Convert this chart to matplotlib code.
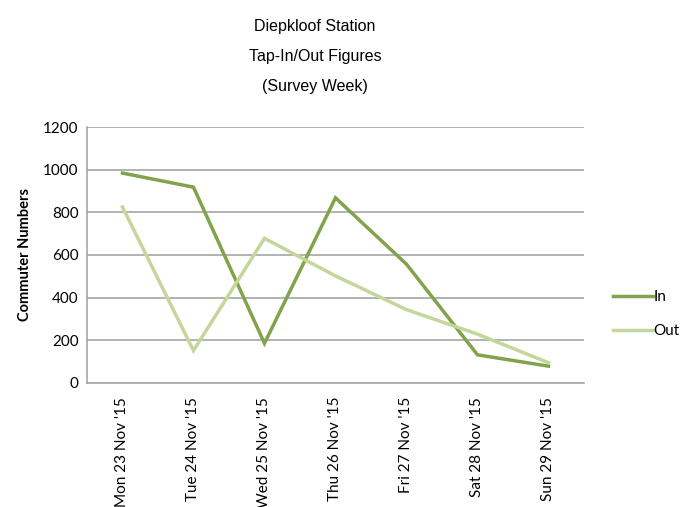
import matplotlib.pyplot as plt
from matplotlib.lines import Line2D

days = ["Mon 23 Nov '15", "Tue 24 Nov '15", "Wed 25 Nov '15", "Thu 26 Nov '15",
        "Fri 27 Nov '15", "Sat 28 Nov '15", "Sun 29 Nov '15"]
tap_in = [984, 918, 186, 868, 557, 132, 79]
tap_out = [825, 152, 678, 502, 344, 229, 95]
yticks = [0, 200, 400, 600, 800, 1000, 1200]

col_in = '#80a34b'
col_out = '#c4d79b'
grid_col = '#a6a6a6'

plt.rcParams['font.family'] = ['Lato', 'DejaVu Sans']

fig = plt.figure(figsize=(6.93, 5.07), dpi=100)
ax = fig.add_axes([0.1255, 0.2446, 0.7172, 0.5049])

x = range(len(days))
ax.plot(x, tap_in, color=col_in, lw=2.5, label='In', solid_joinstyle='miter')
ax.plot(x, tap_out, color=col_out, lw=2.5, label='Out', solid_joinstyle='miter')

ax.set_xlim(-0.5, len(days) - 0.5)
ax.set_ylim(0, 1200)
ax.set_yticks(yticks)
ax.set_xticks(list(x))
ax.set_xticklabels(days, rotation=90, fontsize=11)
ax.tick_params(axis='y', labelsize=11, length=0, pad=6)
ax.tick_params(axis='x', length=0, pad=10)
ax.yaxis.grid(True, color=grid_col, lw=1.2)
ax.set_axisbelow(True)
for s in ['top', 'right']:
    ax.spines[s].set_visible(False)
for s in ['left', 'bottom']:
    ax.spines[s].set_color(grid_col)
    ax.spines[s].set_linewidth(1.2)

ax.set_ylabel('Commuter Numbers', fontsize=10.5, fontweight='bold', labelpad=8)

# titre sur trois lignes
tx = 315 / 693
for i, t in enumerate(['Diepkloof Station', 'Tap-In/Out Figures', '(Survey Week)']):
    fig.text(tx, 1 - (27 + 30 * i) / 507, t, ha='center', va='center',
             fontsize=11.5, family=['Liberation Sans', 'DejaVu Sans'])

handles = [Line2D([], [], color=col_in, lw=2.5), Line2D([], [], color=col_out, lw=2.5)]
fig.legend(handles, ['In', 'Out'], loc='center left', bbox_to_anchor=(0.865, 0.38),
           frameon=False, fontsize=11, handlelength=2.6, handletextpad=0.05,
           labelspacing=1.3)

fig.savefig('out.png', dpi=100)
